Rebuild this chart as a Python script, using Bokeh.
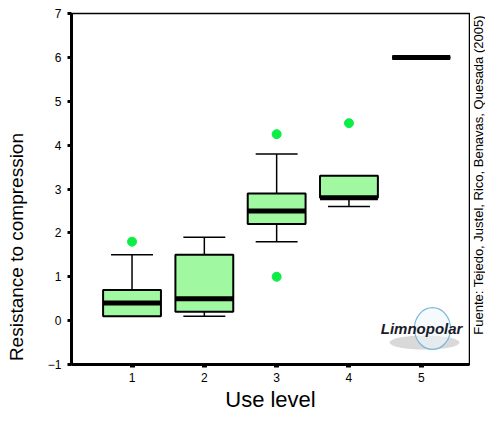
from bokeh.plotting import figure
from bokeh.models import FixedTicker, Range1d, Label
from bokeh.layouts import row
from bokeh.embed import file_html
from bokeh.resources import INLINE
import math

# ---- data ----
levels = [1, 2, 3, 4, 5]
lower_whisker = [0.1, 0.1, 1.8, 2.6, 6.0]
q1 = [0.1, 0.2, 2.2, 2.8, 6.0]
median = [0.4, 0.5, 2.5, 2.8, 6.0]
q3 = [0.7, 1.5, 2.9, 3.3, 6.0]
upper_whisker = [1.5, 1.9, 3.8, 3.3, 6.0]
outlier_x = [1, 3, 3, 4]
outlier_y = [1.8, 4.25, 1.0, 4.5]
y_ticks = [-1, 0, 1, 2, 3, 4, 5, 6, 7]
x_ticks = [1, 2, 3, 4, 5]
x_title = "Use level"
y_title = "Resistance to compression"
source_note = "Fuente: Tejedo, Justel, Rico, Benavas, Quesada (2005)"

BOX_W = 0.8
CAP_W = 0.58
FILL = "#a0f8a0"
FONT = "Liberation Sans"
NB = "\u00a0"

p = figure(width=470, height=414, output_backend="svg", toolbar_location=None,
           x_range=Range1d(0.163, 5.667), y_range=Range1d(-1, 7),
           min_border_left=71, min_border_right=1, min_border_top=13, min_border_bottom=50)
p.background_fill_color = "white"
p.border_fill_color = "white"
p.xgrid.visible = False
p.ygrid.visible = False
p.outline_line_color = "black"
p.outline_line_width = 1.5

# boxes (only where box has extent)
bx = [l for l, a, b in zip(levels, q1, q3) if b > a]
bq1 = [a for a, b in zip(q1, q3) if b > a]
bq3 = [b for a, b in zip(q1, q3) if b > a]
p.vbar(x=bx, width=BOX_W, bottom=bq1, top=bq3, fill_color=FILL, line_color="black", line_width=2)

# upper whiskers
ux = [l for l, t, u in zip(levels, q3, upper_whisker) if u > t]
u0 = [t for t, u in zip(q3, upper_whisker) if u > t]
u1 = [u for t, u in zip(q3, upper_whisker) if u > t]
p.segment(x0=ux, y0=u0, x1=ux, y1=u1, line_color="black", line_width=1.5)
p.segment(x0=[x - CAP_W / 2 for x in ux], y0=u1, x1=[x + CAP_W / 2 for x in ux], y1=u1,
          line_color="black", line_width=1.5)

# lower whiskers
lx = [l for l, b, w in zip(levels, q1, lower_whisker) if w < b]
l0 = [b for b, w in zip(q1, lower_whisker) if w < b]
l1 = [w for b, w in zip(q1, lower_whisker) if w < b]
p.segment(x0=lx, y0=l0, x1=lx, y1=l1, line_color="black", line_width=1.5)
p.segment(x0=[x - CAP_W / 2 for x in lx], y0=l1, x1=[x + CAP_W / 2 for x in lx], y1=l1,
          line_color="black", line_width=1.5)

# medians
p.segment(x0=[x - BOX_W / 2 for x in levels], y0=median,
          x1=[x + BOX_W / 2 for x in levels], y1=median,
          line_color="black", line_width=5, line_cap="butt")
# degenerate group drawn as rounded bar
dx = [l for l, a, b in zip(levels, q1, q3) if b <= a]
dm = [m for m, a, b in zip(median, q1, q3) if b <= a]
p.segment(x0=[x - BOX_W / 2 + 0.03 for x in dx], y0=dm, x1=[x + BOX_W / 2 - 0.03 for x in dx], y1=dm,
          line_color="black", line_width=5, line_cap="round")

# outliers
p.scatter(x=outlier_x, y=outlier_y, size=9, fill_color="#0aee46", line_color="#0aee46")

# logo (decoration)
p.ellipse(x=[5.045], y=[-0.5], width=[0.97], height=[0.32], fill_color="#a0a0a0",
          fill_alpha=0.4, line_color=None)
p.ellipse(x=[5.155], y=[-0.18], width=[0.5], height=[0.95], fill_color="#eef7fc",
          fill_alpha=0.6, line_color="#7ab8dc", line_width=1.2)
p.add_layout(Label(x=5.004, y=-0.18, text="Limnopolar", text_font=FONT,
                   text_font_style="bold italic", text_font_size="15px", text_color="#1b1b2b",
                   text_align="center", text_baseline="middle"))

# axes
for ax in (p.xaxis, p.yaxis):
    ax.axis_line_width = 3
    ax.axis_line_color = "black"
    ax.minor_tick_line_color = None
    ax.major_tick_in = 0
    ax.major_label_text_font = FONT
    ax.major_label_text_font_size = "12px"
    ax.major_label_text_color = "black"
    ax.axis_label_text_font = FONT
    ax.axis_label_text_font_style = "normal"
    ax.axis_label_text_color = "black"

p.yaxis.ticker = FixedTicker(ticks=y_ticks)
p.yaxis.major_tick_out = 4
p.yaxis.major_tick_line_width = 3
p.yaxis.major_label_standoff = 6
p.yaxis.axis_label = y_title + NB * 22
p.yaxis.axis_label_text_font_size = "19px"
p.yaxis.axis_label_standoff = 18

p.xaxis.ticker = FixedTicker(ticks=x_ticks)
p.xaxis.major_tick_out = 3
p.xaxis.major_tick_line_width = 5
p.xaxis.major_label_standoff = 5
p.xaxis.axis_label = x_title
p.xaxis.axis_label_text_font_size = "22px"
p.xaxis.axis_label_standoff = 2

# narrow side panel carrying the vertical source note
note = figure(width=15, height=414, output_backend="svg", toolbar_location=None,
              x_range=Range1d(0, 1), y_range=Range1d(0, 1),
              min_border_left=0, min_border_right=0, min_border_top=0, min_border_bottom=0)
note.axis.visible = False
note.grid.visible = False
note.outline_line_color = None
note.background_fill_color = "white"
note.border_fill_color = "white"
note.add_layout(Label(x=0.5, y=0.54, text=source_note, angle=math.pi / 2, text_font=FONT,
                      text_font_size="13px", text_color="black",
                      text_align="center", text_baseline="middle"))

layout = row(p, note)
open("out.html", "w").write(file_html(layout, INLINE))
